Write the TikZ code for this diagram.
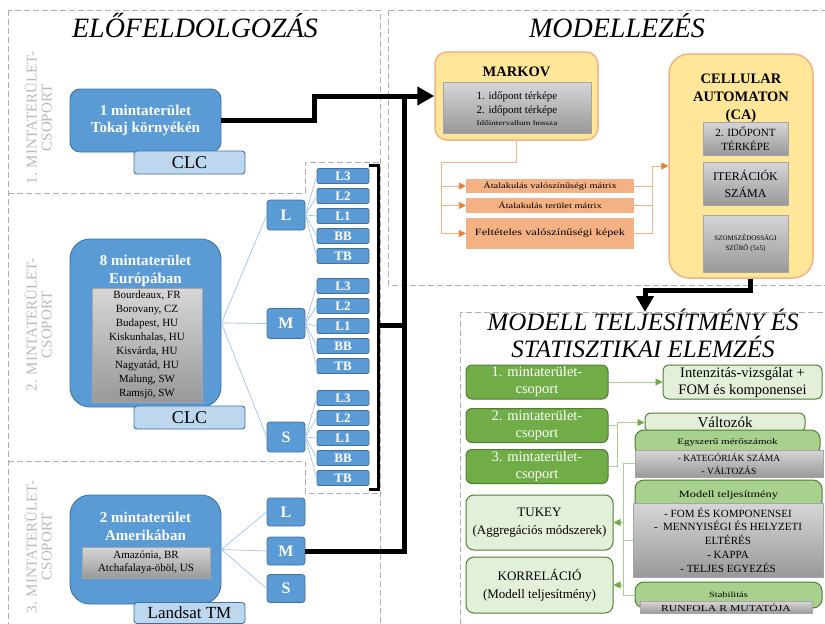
\documentclass[tikz,border=0pt]{standalone}
\usepackage{fontspec}
\setmainfont{Liberation Serif}
\newfontfamily\widefont[FakeStretch=1.3]{Liberation Serif}
\usetikzlibrary{arrows.meta}

\definecolor{areablue}{HTML}{5B9BD5}
\definecolor{areaedge}{HTML}{41719C}
\definecolor{srcblue}{HTML}{BDD7EE}
\definecolor{linkblue}{HTML}{9DC3E6}
\definecolor{markovfill}{HTML}{FFE699}
\definecolor{markovedge}{HTML}{F4B183}
\definecolor{outfill}{HTML}{F4B183}
\definecolor{outedge}{HTML}{ED7D31}
\definecolor{grpgreen}{HTML}{70AD47}
\definecolor{grpedge}{HTML}{507E32}
\definecolor{resgreen}{HTML}{E2F0D9}
\definecolor{measgreen}{HTML}{A9D18E}
\definecolor{greyedge}{HTML}{A5A5A5}

\newcommand{\fsz}[2]{\fontsize{#1}{#2}\selectfont}

\begin{document}
\begin{tikzpicture}[x=1pt, y=-1pt,
  frame/.style={draw=black!32, line width=0.9pt, dash pattern=on 6pt off 3pt},
  grouplabel/.style={rotate=90, text=black!28, font=\fsz{15}{15}, align=center},
  sectitle/.style={anchor=base, font=\itshape\fsz{28}{30}},
  area/.style={draw=areaedge, line width=0.9pt, fill=areablue, minimum width=151pt,
    inner sep=0pt, text=white, font=\bfseries\fsz{15}{17}, align=center},
  srcbox/.style={draw=areaedge, line width=0.9pt, fill=srcblue, rounded corners=3pt,
    minimum width=111pt, minimum height=23pt, inner sep=0pt, font=\fsz{18}{20}},
  sizebox/.style={draw=areaedge, line width=0.8pt, fill=areablue, rounded corners=3pt,
    minimum width=38pt, minimum height=30pt, inner sep=0pt, text=white, font=\bfseries\fsz{16}{16}},
  bandbox/.style={draw=areaedge, line width=0.8pt, fill=areablue, rounded corners=2pt,
    minimum width=52pt, minimum height=15pt, inner sep=0pt, text=white, font=\bfseries\fsz{13}{13}},
  greybox/.style={draw=greyedge, line width=0.5pt, top color=black!16, bottom color=black!40,
    inner sep=0pt, align=center},
  blink/.style={draw=linkblue, line width=0.7pt},
  flow/.style={line width=5pt, line join=miter},
  bracketline/.style={line width=3pt},
  modelbox/.style={draw=markovedge, line width=1.5pt, fill=markovfill, inner sep=0pt},
  outbox/.style={fill=outfill, inner sep=0pt, minimum width=168pt, font=\widefont\fsz{8}{8}},
  oline/.style={draw=markovedge, line width=0.9pt},
  oarrow/.style={oline, -{Triangle[length=7pt, width=7pt, color=outedge]}},
  grpbox/.style={draw=grpedge, line width=1pt, fill=grpgreen, rounded corners=6pt,
    minimum width=142pt, minimum height=34pt, inner sep=0pt, text=white,
    font=\fsz{14.5}{17}, align=center},
  resbox/.style={draw=grpedge, line width=1pt, fill=resgreen, rounded corners=6pt,
    inner sep=0pt, align=center},
  measbox/.style={draw=grpedge, line width=1pt, fill=measgreen, rounded corners=9pt, inner sep=0pt},
  gline/.style={draw=measgreen, line width=0.9pt},
  garrow/.style={gline, -{Triangle[length=7pt, width=7pt, color=grpgreen]}}
]
\useasboundingbox (0,0) rectangle (825,624);
\clip (0,0) rectangle (825,624);

% dashed frames
\draw[frame] (8,10) rectangle (380,630);
\draw[frame] (8,193) -- (305,193) -- (305,162) -- (380,162);
\draw[frame] (8,461) -- (305,461) -- (305,493) -- (380,493);
\draw[frame] (388,10) rectangle (832,285);
\draw[frame] (460,312) rectangle (832,630);

% section titles
\node[sectitle] (pretitle) at (195,37) {ELŐFELDOLGOZÁS};
\node[sectitle] (modtitle) at (617,37) {MODELLEZÉS};
\node[sectitle, font=\itshape\fsz{25}{27}] (evaltitlea) at (643,330) {MODELL TELJESÍTMÉNY ÉS};
\node[sectitle, font=\itshape\fsz{25}{27}] (evaltitleb) at (643,357) {STATISZTIKAI ELEMZÉS};

% group labels
\node[grouplabel] (grpa) at (38,118) {1. MINTATERÜLET-\\CSOPORT};
\node[grouplabel] (grpb) at (38,325) {2. MINTATERÜLET-\\CSOPORT};
\node[grouplabel] (grpc) at (38,547) {3. MINTATERÜLET-\\CSOPORT};

% group 1
\node[area, minimum height=63pt, rounded corners=10pt] (tokaj) at (145.5,120.5) {1 mintaterület\\Tokaj környékén};
\node[srcbox] (clca) at (189.5,162.5) {CLC};

% group 2
\node[area, minimum height=168pt, rounded corners=20pt] (europe) at (145.5,323) {};
\node[text=white, font=\bfseries\fsz{15}{18}, align=center] (europetxt) at (145.5,271) {8 mintaterület\\Európában};
\node[greybox, minimum width=110pt, minimum height=114pt, font=\fsz{11}{14}] (europelist) at (147,345)
  {Bourdeaux, FR\\Borovany, CZ\\Budapest, HU\\Kiskunhalas, HU\\Kisvárda, HU\\Nagyatád, HU\\Malung, SW\\Ramsjö, SW};
\node[srcbox] (clcb) at (189.5,417.5) {CLC};

\foreach \s/\y/\t in {L/215/176, M/323.5/286, S/437/398} {
  \node[sizebox] (eu\s) at (286,\y) {\s};
  \draw[blink] (europe.east) -- (eu\s.west);
  \foreach \b [count=\i from 0] in {L3,L2,L1,BB,TB} {
    \node[bandbox] (eu\s\b) at (343,\t+20*\i) {\b};
    \draw[blink] (eu\s.east) -- (eu\s\b.west);
  }
}

% group 3
\node[area, minimum height=109pt, rounded corners=20pt] (america) at (145.5,549.5) {};
\node[text=white, font=\bfseries\fsz{15}{18}, align=center] (americatxt) at (145.5,526) {2 mintaterület\\Amerikában};
\node[greybox, minimum width=128pt, minimum height=31pt, font=\fsz{11}{13}] (americalist) at (146,562.5)
  {Amazónia, BR\\Atchafalaya-öböl, US};
\node[srcbox, minimum height=21pt, font=\fsz{17}{18}] (landsat) at (189.5,613) {Landsat TM};
\foreach \s/\y in {L/512, M/551, S/588.5} {
  \node[sizebox, minimum height=28pt] (am\s) at (286,\y) {\s};
  \draw[blink] (america.east) -- (am\s.west);
}

% Markov
\node[modelbox, minimum width=163pt, minimum height=88pt, rounded corners=12pt] (markov) at (516.5,96) {};
\node[font=\bfseries\fsz{14.5}{14.5}] (markovtitle) at (516.5,72) {MARKOV};
\node[greybox, minimum width=148pt, minimum height=51pt] (markovlist) at (517,107.5) {};
\node[font=\fsz{11}{14}, align=center] (markovmaps) at (517,104) {1. időpont térképe\\2. időpont térképe};
\node[font=\widefont\fsz{7}{7}] (markovspan) at (517,123.5) {Időintervallum hossza};

% main flow into the models
\coordinate (trunk) at (404,96);
\draw[flow, -{Triangle[length=17pt, width=18pt]}] (tokaj.east) -- (314,120.5) |- (markov.west);
\draw[flow] (amM.east) -| (trunk);
\draw[bracketline] (369,165) -- (378,165) -- (378,489) -- (369,489);
\coordinate (brk) at (378,325);
\draw[flow] (brk) -- (brk -| trunk);

% Markov outputs
\node[outbox, minimum height=14pt] (oxa) at (550,186) {Átalakulás valószínűségi mátrix};
\node[outbox, minimum height=15pt] (oxb) at (550,205.5) {Átalakulás terület mátrix};
\node[outbox, minimum height=31pt, font=\widefont\fsz{9.5}{10}] (oxc) at (550,233.5) {Feltételes valószínűségi képek};

% Cellular automaton
\node[modelbox, minimum width=144pt, minimum height=224pt, rounded corners=20pt] (ca) at (741,166) {};
\node[font=\bfseries\fsz{14.5}{18}, align=center] (catitle) at (741,98) {CELLULAR\\AUTOMATON\\(CA)};
\node[greybox, minimum width=85pt, minimum height=33pt, font=\fsz{11}{14}] (camap) at (745.5,138.5) {2. IDŐPONT\\TÉRKÉPE};
\node[greybox, minimum width=85pt, minimum height=43pt, font=\fsz{12}{17}] (caiter) at (745.5,183.5) {ITERÁCIÓK\\SZÁMA};
\node[greybox, minimum width=85pt, minimum height=57pt, font=\fsz{7}{10}] (cafilter) at (745.5,243.5) {SZOMSZÉDOSSÁGI\\SZŰRŐ (5x5)};

\coordinate (osplit) at (441,162);
\coordinate (ojoin) at (652,166);
\draw[oline] (markov.south) |- (osplit) -- (osplit |- oxc.west);
\foreach \b in {oxa,oxb,oxc} {
  \draw[oarrow] (osplit |- \b.west) -- (\b.west);
  \draw[oline] (\b.east) -- (ojoin |- \b.east);
}
\draw[oline] (ojoin |- oxc.east) -- (ojoin);
\draw[oarrow] (ojoin) -- (ca.west);

% into the evaluation
\coordinate (evaltop) at (645,312);
\draw[flow, -{Triangle[length=16pt, width=17pt]}] ([xshift=9pt]ca.south) -- ++(0,12) -| (evaltop);

% evaluation
\node[grpbox] (ga) at (537,382) {1. mintaterület-\\csoport};
\node[grpbox] (gb) at (537,425.5) {2. mintaterület-\\csoport};
\node[grpbox] (gc) at (537,466.5) {3. mintaterület-\\csoport};
\node[resbox, minimum width=159pt, minimum height=34pt, font=\fsz{14.5}{17}] (intens) at (742.5,382) {Intenzitás-vizsgálat +\\FOM és komponensei};
\draw[garrow] (ga) -- (intens);
\node[resbox, minimum width=160pt, minimum height=19pt, font=\fsz{15}{15}] (valt) at (725,422.5) {Változók};
\coordinate (gjoin) at (617,422.5);
\draw[gline] (gb.east) -- (gb.east -| gjoin);
\draw[gline] (gc.east) -- (gc.east -| gjoin) -- (gjoin);
\draw[garrow] (gjoin) -- (valt.west);

\node[measbox, minimum width=185pt, minimum height=25pt, font=\widefont\fsz{8.5}{9}] (simple) at (727.5,442.5) {Egyszerű mérőszámok};
\node[greybox, minimum width=188pt, minimum height=27pt, font=\fsz{9.5}{13}] (simplelist) at (729,463.5) {- KATEGÓRIÁK SZÁMA\\- VÁLTOZÁS};
\node[measbox, minimum width=187pt, minimum height=30pt, font=\widefont\fsz{9.5}{10}] (perf) at (728.5,495) {Modell teljesítmény};
\node[greybox, minimum width=190pt, minimum height=74pt, font=\fsz{11}{13.8}] (perflist) at (728,540)
  {- FOM ÉS KOMPONENSEI\\-\ \ MENNYISÉGI ÉS HELYZETI\\ELTÉRÉS\\- KAPPA\\- TELJES EGYEZÉS};
\node[measbox, minimum width=187pt, minimum height=26pt, font=\widefont\fsz{8}{8}] (stab) at (728.5,595) {Stabilitás};
\node[greybox, minimum width=172pt, minimum height=12pt, font=\widefont\fsz{9}{9}] (stablist) at (726,607.5) {RUNFOLA R MUTATÓJA};

\node[resbox, minimum width=147pt, minimum height=55pt, rounded corners=8pt, font=\fsz{13}{18}] (tukey) at (539.5,522.5) {TUKEY\\(Aggregációs módszerek)};
\node[resbox, minimum width=147pt, minimum height=56pt, rounded corners=8pt, font=\fsz{13}{18}] (korr) at (539.5,585) {KORRELÁCIÓ\\(Modell teljesítmény)};

\coordinate (mjoin) at (623,463.5);
\draw[gline] (simplelist.west) -- (mjoin) -- (mjoin |- stab.west) -- (stab.west);
\draw[gline] (perflist.west) -- (mjoin |- perflist.west);
\draw[garrow] (mjoin |- tukey.east) -- (tukey.east);
\draw[garrow] (mjoin |- korr.east) -- (korr.east);
\end{tikzpicture}
\end{document}
